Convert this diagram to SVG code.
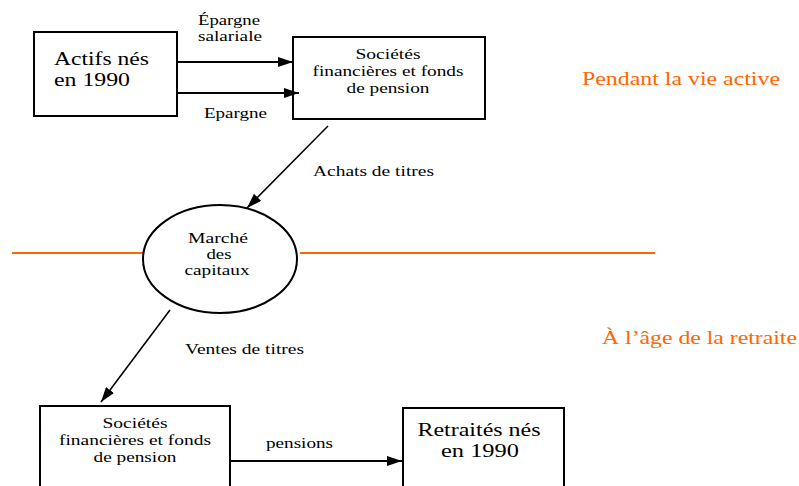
<svg xmlns="http://www.w3.org/2000/svg" width="799" height="486" viewBox="0 0 799 486">
<style>
.box{fill:#fff;stroke:#000;stroke-width:2}
text{font-family:"Liberation Serif","Times New Roman",serif}
.big{font-size:18px;fill:#000}
.sm{font-size:14px;fill:#000}
.or{font-size:18px;fill:#FF6600}
.c{text-anchor:middle}
.ln{stroke:#000;fill:none}
</style>
<defs>
<marker id="ah" markerWidth="16" markerHeight="10" refX="15" refY="5" orient="auto" markerUnits="userSpaceOnUse">
<path d="M0,0 L15,5 L0,10 Z" fill="#000"/>
</marker>
</defs>
<g id="separator">
<line x1="12" y1="253" x2="143" y2="253" stroke="#FF6600" stroke-width="2"/>
<line x1="300" y1="253" x2="655" y2="253" stroke="#FF6600" stroke-width="2"/>
<text class="or" x="582" y="85" textLength="198" lengthAdjust="spacingAndGlyphs">Pendant la vie active</text>
<text class="or" x="602" y="344" textLength="195" lengthAdjust="spacingAndGlyphs">À l’âge de la retraite</text>
</g>
<g id="actifs">
<rect class="box" x="34" y="32" width="143" height="84"/>
<text class="big" x="54" y="65" textLength="95" lengthAdjust="spacingAndGlyphs">Actifs nés</text>
<text class="big" x="54" y="86" textLength="76" lengthAdjust="spacingAndGlyphs">en 1990</text>
</g>
<g id="societes1">
<rect class="box" x="293" y="37" width="192" height="82"/>
<text class="sm c" x="388" y="59" textLength="65" lengthAdjust="spacingAndGlyphs">Sociétés</text>
<text class="sm c" x="388" y="76" textLength="151" lengthAdjust="spacingAndGlyphs">financières et fonds</text>
<text class="sm c" x="388" y="93" textLength="83" lengthAdjust="spacingAndGlyphs">de pension</text>
</g>
<g id="marche">
<ellipse cx="220" cy="259" rx="77" ry="54" fill="#fff" stroke="#000" stroke-width="2"/>
<text class="sm c" x="218" y="243" textLength="60" lengthAdjust="spacingAndGlyphs">Marché</text>
<text class="sm c" x="219" y="259" textLength="25" lengthAdjust="spacingAndGlyphs">des</text>
<text class="sm c" x="217" y="275" textLength="65" lengthAdjust="spacingAndGlyphs">capitaux</text>
</g>
<g id="societes2">
<rect class="box" x="40" y="406" width="190" height="90"/>
<text class="sm c" x="135" y="428" textLength="65" lengthAdjust="spacingAndGlyphs">Sociétés</text>
<text class="sm c" x="135" y="445" textLength="152" lengthAdjust="spacingAndGlyphs">financières et fonds</text>
<text class="sm c" x="135" y="462" textLength="83" lengthAdjust="spacingAndGlyphs">de pension</text>
</g>
<g id="retraites">
<rect class="box" x="403" y="408" width="161" height="90"/>
<text class="big c" x="479" y="436" textLength="123" lengthAdjust="spacingAndGlyphs">Retraités nés</text>
<text class="big c" x="480" y="457" textLength="78" lengthAdjust="spacingAndGlyphs">en 1990</text>
</g>
<g id="connectors">
<line class="ln" x1="177" y1="62" x2="293" y2="62" stroke-width="2" marker-end="url(#ah)"/>
<line class="ln" x1="177" y1="93" x2="299" y2="93" stroke-width="2" marker-end="url(#ah)"/>
<line class="ln" x1="328" y1="126" x2="247" y2="208" stroke-width="1.5" marker-end="url(#ah)"/>
<line class="ln" x1="170" y1="310" x2="101" y2="402" stroke-width="1.5" marker-end="url(#ah)"/>
<line class="ln" x1="230" y1="461" x2="402" y2="461" stroke-width="2" marker-end="url(#ah)"/>
<text class="sm c" x="229" y="25" textLength="62" lengthAdjust="spacingAndGlyphs">Épargne</text>
<text class="sm c" x="230" y="41" textLength="64" lengthAdjust="spacingAndGlyphs">salariale</text>
<text class="sm c" x="235.5" y="118" textLength="63" lengthAdjust="spacingAndGlyphs">Epargne</text>
<text class="sm" x="313" y="176" textLength="121" lengthAdjust="spacingAndGlyphs">Achats de titres</text>
<text class="sm" x="185" y="354" textLength="119" lengthAdjust="spacingAndGlyphs">Ventes de titres</text>
<text class="sm" x="266" y="448" textLength="67" lengthAdjust="spacingAndGlyphs">pensions</text>
</g>
</svg>
